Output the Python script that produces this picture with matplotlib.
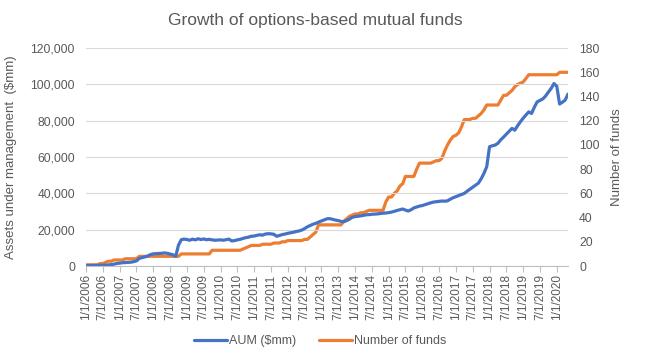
import matplotlib.pyplot as plt
import matplotlib.ticker as mticker
import pandas as pd

plt.rcParams['font.family'] = ['Liberation Sans', 'DejaVu Sans']

# Monthly observations, Jan 2006 - May 2020
months = pd.date_range("2006-01-01", "2020-05-01", freq="MS")

# AUM in $mm (thousands -> x1000 below)
aum_k = [
    0.2, 0.2, 0.3, 0.3, 0.3, 0.4, 0.4, 0.5, 0.6, 0.8, 1.0, 1.4,        # 2006
    1.6, 1.8, 1.9, 2.0, 2.1, 2.4, 2.8, 4.2, 4.6, 5.0, 5.5, 6.3,        # 2007
    6.7, 6.8, 6.9, 7.0, 7.2, 7.0, 6.6, 6.2, 5.3, 11.5, 14.5, 14.8,     # 2008
    14.6, 14.2, 14.8, 14.4, 15.0, 14.6, 14.9, 14.5, 14.7, 14.4, 14.2, 14.3,  # 2009
    14.4, 14.2, 14.5, 14.8, 13.8, 14.0, 14.4, 14.7, 15.2, 15.6, 15.9, 16.4,  # 2010
    16.5, 16.9, 17.2, 17.0, 17.6, 17.8, 17.7, 17.5, 16.4, 16.8, 17.3, 17.6,  # 2011
    18.0, 18.3, 18.6, 19.0, 19.3, 19.8, 20.6, 21.6, 22.3, 23.0, 23.5, 24.2,  # 2012
    24.8, 25.4, 26.0, 26.1, 25.7, 25.3, 25.0, 24.6, 24.4, 25.0, 25.8, 26.8,  # 2013
    27.2, 27.4, 27.6, 27.9, 28.2, 28.3, 28.5, 28.6, 28.7, 28.9, 29.1, 29.2,  # 2014
    29.4, 29.7, 30.1, 30.6, 31.0, 31.4, 30.8, 30.3, 31.0, 32.0, 32.5, 33.0,  # 2015
    33.3, 33.8, 34.3, 34.8, 35.2, 35.4, 35.6, 35.8, 35.7, 35.9, 36.8, 37.6,  # 2016
    38.2, 38.8, 39.4, 40.0, 41.2, 42.3, 43.4, 44.5, 45.6, 48.0, 51.0, 54.7,  # 2017
    65.7, 66.2, 66.6, 67.6, 69.5, 71.0, 72.6, 74.2, 75.8, 74.8, 77.2, 79.4,  # 2018
    81.4, 83.2, 84.9, 84.0, 87.5, 90.4, 91.2, 92.0, 93.6, 95.8, 97.8, 100.5,  # 2019
    99.0, 89.2, 90.2, 91.4, 94.7,                                       # 2020
]

num_funds = [
    1, 1, 1, 1, 1, 2, 2, 3, 4, 4, 5, 5,
    5, 5, 6, 6, 6, 6, 6, 8, 8, 8, 8, 8,
    8, 8, 8, 8, 8, 8, 8, 8, 8, 8, 10, 10,
    10, 10, 10, 10, 10, 10, 10, 10, 10, 13, 13, 13,
    13, 13, 13, 13, 13, 13, 13, 13, 14, 15, 16, 17,
    17, 17, 17, 18, 18, 18, 18, 19, 19, 19, 20, 20,
    21, 21, 21, 21, 21, 21, 22, 22, 24, 26, 28, 34,
    34, 34, 34, 34, 34, 34, 34, 34, 37, 39, 41, 42,
    43, 43, 44, 44, 45, 46, 46, 46, 46, 46, 46, 53,
    57, 57, 60, 62, 66, 68, 74, 74, 74, 74, 80, 85,
    85, 85, 85, 85, 86, 87, 87, 89, 95, 100, 104, 107,
    108, 110, 115, 121, 121, 121, 122, 122, 124, 126, 129, 133,
    133, 133, 133, 133, 137, 141, 141, 143, 145, 148, 150, 151,
    152, 155, 158, 158, 158, 158, 158, 158, 158, 158, 158, 158,
    158, 160, 160, 160, 160,
]

aum = [v * 1000 for v in aum_k]
labels = [f"{d.month}/{d.day}/{d.year}" for d in months]
idx = list(range(len(months)))

grey = "#595959"
blue = "#4472C4"
orange = "#ED7D31"

fig = plt.figure(figsize=(6.54, 3.59), dpi=100)
ax = fig.add_axes([0.1315, 0.259, 0.737, 0.607])
ax2 = ax.twinx()

l1, = ax.plot(idx, aum, color=blue, lw=2.3, label="AUM ($mm)", solid_capstyle="round")
l2, = ax2.plot(idx, num_funds, color=orange, lw=2.3, label="Number of funds", solid_capstyle="round")
ax2.set_zorder(ax.get_zorder() - 1)
ax.patch.set_visible(False)

ax.set_xlim(0, len(idx) - 1)
ax.set_ylim(0, 120000)
ax2.set_ylim(0, 180)
ax.yaxis.set_major_locator(mticker.MultipleLocator(20000))
ax.yaxis.set_major_formatter(mticker.FuncFormatter(lambda v, p: f"{int(v):,}"))
ax2.yaxis.set_major_locator(mticker.MultipleLocator(20))

ax.set_xticks(idx[::6])
ax.set_xticklabels(labels[::6], rotation=90, fontsize=8.5, color=grey)

ax.grid(axis="y", color="#d9d9d9", lw=0.8)
ax.set_axisbelow(True)
for a in (ax, ax2):
    for s in ("top", "left", "right"):
        a.spines[s].set_visible(False)
    a.spines["bottom"].set_color("#bfbfbf")
ax2.spines["bottom"].set_visible(False)

ax.tick_params(axis="y", length=0, pad=8, labelsize=8.7, labelcolor=grey)
ax2.tick_params(axis="y", length=0, pad=8, labelsize=8.7, labelcolor=grey)
ax.tick_params(axis="x", length=4, color="#bfbfbf", pad=2)

ax.set_ylabel("Assets under management  ($mm)", fontsize=9.5, color=grey, labelpad=10)
ax2.set_ylabel("Number of funds", fontsize=9.5, color=grey, labelpad=8)

fig.text(0.482, 0.944, "Growth of options-based mutual funds", ha="center", va="center",
         fontsize=12.5, color=grey)

fig.legend(handles=[l1, l2], loc="center", bbox_to_anchor=(0.49, 0.05), ncol=2,
           frameon=False, fontsize=9, labelcolor=grey, handlelength=2.6,
           handletextpad=0.2, columnspacing=1.8)

fig.savefig("out.png", dpi=100)
